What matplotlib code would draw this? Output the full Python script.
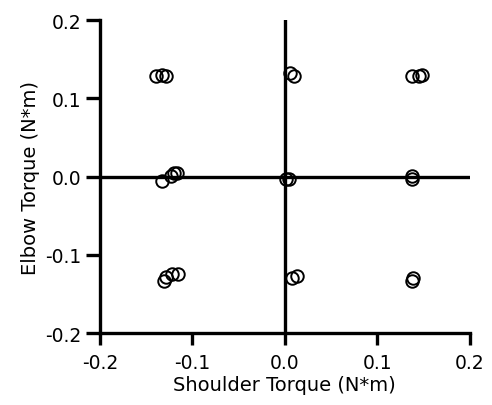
import matplotlib.pyplot as plt
import numpy as np

shoulder = np.array([-0.139, -0.133, -0.129,
                     -0.133, -0.123, -0.120, -0.117,
                     -0.131, -0.128, -0.122, -0.115,
                     0.006, 0.010,
                     0.001, 0.004,
                     0.008, 0.013,
                     0.137, 0.145, 0.148,
                     0.137, 0.137,
                     0.137, 0.139])
elbow = np.array([0.128, 0.130, 0.129,
                  -0.005, 0.001, 0.004, 0.005,
                  -0.133, -0.128, -0.124, -0.124,
                  0.132, 0.129,
                  -0.003, -0.003,
                  -0.130, -0.127,
                  0.128, 0.129, 0.130,
                  0.001, -0.003,
                  -0.133, -0.130])
ticks = [-0.2, -0.1, 0.0, 0.1, 0.2]

plt.rcParams['font.family'] = ['DejaVu Sans']
fig = plt.figure(figsize=(4.92, 4.06), dpi=100)
ax = fig.add_axes([0.203, 0.177, 0.752, 0.771])

ax.plot([-0.2, 0.2], [0, 0], color='black', lw=2.4)
ax.plot([0, 0], [-0.2, 0.2], color='black', lw=2.4)
ax.plot(shoulder, elbow, 'o', mfc='none', mec='black', ms=9, mew=1.4)

ax.set_xlim(-0.2, 0.2)
ax.set_ylim(-0.2, 0.2)
ax.set_xticks(ticks)
ax.set_yticks(ticks)
ax.set_xticklabels(['%.1f' % t for t in ticks])
ax.set_yticklabels(['%.1f' % t for t in ticks])
for s in ['top', 'right']:
    ax.spines[s].set_visible(False)
for s in ['left', 'bottom']:
    ax.spines[s].set_linewidth(2.4)
ax.tick_params(axis='x', direction='out', length=8.5, width=2.4, labelsize=13.5, pad=6)
ax.tick_params(axis='y', direction='out', length=10, width=2.4, labelsize=13.5, pad=3)
ax.set_xlabel('Shoulder Torque (N*m)', fontsize=14, labelpad=2)
ax.set_ylabel('Elbow Torque (N*m)', fontsize=14, labelpad=4)

plt.savefig('out.png', dpi=100)
